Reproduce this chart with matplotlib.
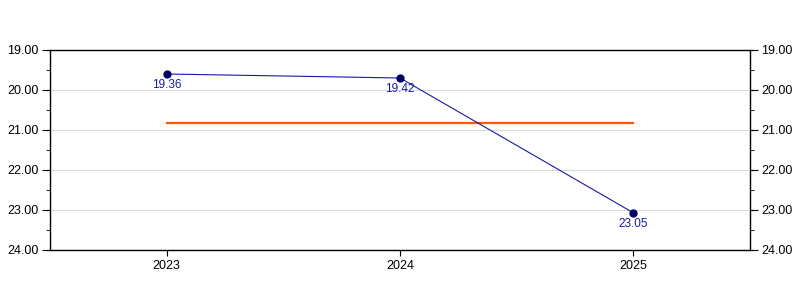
import numpy as np
from matplotlib import pyplot as plt
from matplotlib.ticker import MultipleLocator

# data
years = ['2023', '2024', '2025']
values = [19.6, 19.7, 23.07]
point_labels = ['19.36', '19.42', '23.05']
average = 20.82

plt.rcParams['font.family'] = ['Liberation Sans', 'DejaVu Sans']

fig = plt.figure(figsize=(8, 3), dpi=100)
ax = fig.add_axes([50 / 800, 50 / 300, 700 / 800, 200 / 300])

x = np.arange(len(years))

# grid first so it sits under the marks
ax.set_axisbelow(True)
ax.yaxis.grid(True, color='#d8d8d8', linewidth=0.8)

# average line
ax.plot([x[0], x[-1]], [average, average], color='#ff5a00', linewidth=1.6)

# the series
ax.plot(x, values, color='#1a1aa0', linewidth=0.8, marker='o', markersize=5,
        markerfacecolor='#000050', markeredgecolor='#000080')

for xi, v, lab in zip(x, values, point_labels):
    ax.annotate(lab, (xi, v), xytext=(0, -3.5), textcoords='offset points',
                ha='center', va='top', fontsize=8.5, color='#1a1aa0')

ax.set_xlim(-0.5, len(years) - 0.5)
ax.set_ylim(24, 19)
ax.set_xticks(x)
ax.set_xticklabels(years)
ax.yaxis.set_major_locator(MultipleLocator(1))
ax.yaxis.set_minor_locator(MultipleLocator(0.5))
ax.yaxis.set_major_formatter(lambda v, pos: f'{v:.2f}')

ax.tick_params(axis='y', which='both', left=True, right=True,
               labelleft=True, labelright=True, direction='out')
ax.tick_params(axis='y', which='major', length=6, labelsize=9, pad=2)
ax.tick_params(axis='y', which='minor', length=3)
ax.tick_params(axis='x', which='major', length=4, labelsize=9, pad=3)

for s in ax.spines.values():
    s.set_color('black')
    s.set_linewidth(1.0)

plt.savefig('out.png', dpi=100)
